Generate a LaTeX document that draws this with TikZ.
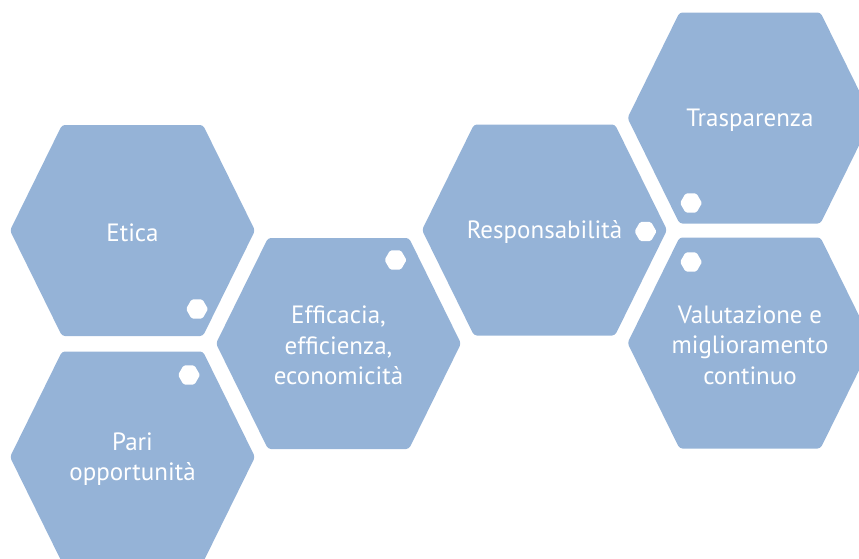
\documentclass[tikz,border=0pt]{standalone}
\usepackage{fontspec}
\setmainfont{PT Sans}
\usepackage{tikz}
\usetikzlibrary{positioning, shapes.geometric, calc}
\definecolor{cellblue}{HTML}{95B3D7}
% one big cell: name, centre coordinate, text
\newcommand{\cell}[3]{%
  \fill[cellblue, rounded corners=3pt] ($(#2)+(-122.5,0)$) -- ++(52,-105.5) -- ++(141,0)
    -- ++(52,105.5) -- ++(-52,105.5) -- ++(-141,0) -- cycle;
  \node[celltext] (#1) at ($(#2)+(0,2)$) {#3};}

\begin{document}
\begin{tikzpicture}[x=1pt, y=-1pt,
                    celltext/.style={text=white, align=center, font=\fontsize{25}{30.5}\selectfont},
                    dot/.style={shape=regular polygon, regular polygon sides=6, fill=white,
                                inner sep=0pt, minimum size=22pt, rounded corners=1.5pt}]
    \useasboundingbox (0,0) rectangle (859,558);
    \coordinate (c-etica) at (132.5,230.5);
    \coordinate (c-pari) at (132.5,457);
    \coordinate (c-eff) at (338.5,343.5);
    \coordinate (c-resp) at (544.5,230);
    \coordinate (c-trasp) at (750,118);
    \coordinate (c-valut) at (750,343);
    \cell{etica}{c-etica}{Etica}
    \cell{pari}{c-pari}{Pari\\opportunità}
    \cell{eff}{c-eff}{Efficacia,\\efficienza,\\economicità}
    \cell{resp}{c-resp}{Responsabilità}
    \cell{trasp}{c-trasp}{Trasparenza}
    \cell{valut}{c-valut}{Valutazione e\\miglioramento\\continuo}
    % small white markers
    \node[dot] (etica-dot) at (197,309) {};
    \node[dot] (pari-dot) at (189,375) {};
    \node[dot] (eff-dot) at (395.5,260) {};
    \node[dot] (resp-dot) at (645.5,231.5) {};
    \node[dot] (trasp-dot) at (691,203) {};
    \node[dot] (valut-dot) at (691,262) {};
\end{tikzpicture}
\end{document}
